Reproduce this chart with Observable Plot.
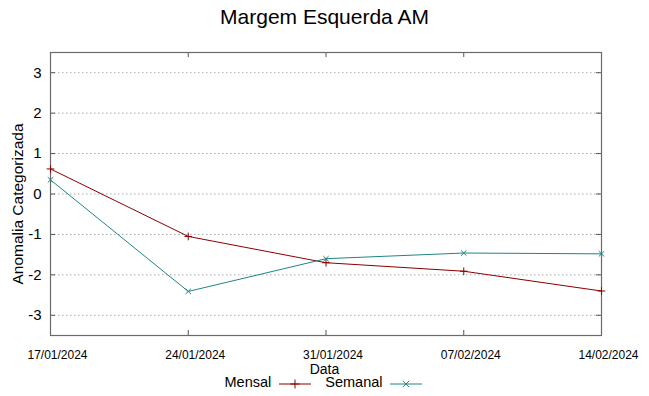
<!DOCTYPE html>
<html>
<head>
<meta charset="utf-8">
<script src="https://cdn.jsdelivr.net/npm/d3@7"></script>
<script src="https://cdn.jsdelivr.net/npm/@observablehq/plot@0.6"></script>
<style>
  body { margin: 0; background: #fff; font-family: "Liberation Sans", Arial, sans-serif; }
  #wrap { position: relative; width: 649px; height: 396px; overflow: hidden; }
  #wrap > svg { position: absolute; left: 0; top: 0; }
  .ov { position: absolute; white-space: nowrap; color: #000; }
</style>
</head>
<body>
<div id="wrap"></div>
<script>
const dates = ["2024-01-17", "2024-01-24", "2024-01-31", "2024-02-07", "2024-02-14"];
const mensal = [0.62, -1.05, -1.70, -1.91, -2.40];
const semanal = [0.35, -2.41, -1.60, -1.46, -1.48];
const yTicks = [-3, -2, -1, 0, 1, 2, 3];
const seriesNames = ["Mensal", "Semanal"];
const seriesColors = ["#8b0000", "#1f8585"];
const seriesSymbols = ["plus", "times"];

const W = 649, H = 396;
const mT = 52, mR = 48, mB = 61, mL = 50;
const pw = W - mL - mR, ph = H - mT - mB;

const parse = d3.utcParse("%Y-%m-%d");
const xDates = dates.map(parse);
const rows = [];
seriesNames.forEach((s, i) => {
  const vals = i === 0 ? mensal : semanal;
  xDates.forEach((d, j) => rows.push({series: s, date: d, value: vals[j]}));
});

const chart = Plot.plot({
  width: W, height: H,
  marginTop: mT, marginRight: mR, marginBottom: mB, marginLeft: mL,
  style: {fontFamily: '"Liberation Sans", Arial, sans-serif', background: "transparent"},
  x: {type: "utc", domain: [xDates[0], xDates[xDates.length - 1]]},
  y: {domain: [-3.5, 3.5]},
  color: {domain: seriesNames, range: seriesColors},
  symbol: {domain: seriesNames, range: seriesSymbols},
  marks: [
    Plot.ruleY(yTicks, {y: d => d, stroke: "#a8a8a8", strokeDasharray: "1.5,2.5", strokeWidth: 1}),
    Plot.tickX(xDates, {x: d => d, insetTop: ph - 5, stroke: "#555"}),
    Plot.tickX(xDates, {x: d => d, insetBottom: ph - 5, stroke: "#555"}),
    Plot.tickY(yTicks, {y: d => d, insetLeft: pw - 5, stroke: "#555"}),
    Plot.tickY(yTicks, {y: d => d, insetRight: pw - 5, stroke: "#555"}),
    Plot.frame({stroke: "#6a6a6a", strokeWidth: 1.2}),
    Plot.line(rows, {x: "date", y: "value", z: "series", stroke: "series", strokeWidth: 1}),
    Plot.dot(rows, {x: "date", y: "value", stroke: "series", symbol: "series", r: 2.6, strokeWidth: 1}),
    Plot.axisX({ticks: xDates, tickFormat: d3.utcFormat("%d/%m/%Y"), tickSize: 0, tickPadding: 15, dx: 7, fontSize: 12, label: null}),
    Plot.axisY({ticks: yTicks, tickFormat: d => String(d), tickSize: 0, tickPadding: 9, fontSize: 15, label: null})
  ]
});
chart.querySelectorAll("text").forEach(t => t.setAttribute("fill", "#000"));
const wrap = document.getElementById("wrap");
wrap.appendChild(chart);

function ov(text, css) {
  const d = document.createElement("div");
  d.className = "ov";
  d.textContent = text;
  Object.assign(d.style, css);
  wrap.appendChild(d);
  return d;
}
ov("Margem Esquerda AM", {left: "0", width: W + "px", textAlign: "center", top: "5px", fontSize: "21px"});
ov("Data", {left: "0", width: W + "px", textAlign: "center", top: "361px", fontSize: "14px", lineHeight: "16px"});
const yl = ov("Anomalia Categorizada", {left: "18px", top: "204px", fontSize: "15.5px", lineHeight: "18px"});
yl.style.transform = "translate(-50%, -50%) rotate(-90deg)";

// legend
const leg = document.createElement("div");
leg.className = "ov";
Object.assign(leg.style, {left: "0", width: W + "px", top: "374px", fontSize: "14.5px", lineHeight: "17px", display: "flex", justifyContent: "center", alignItems: "center"});
seriesNames.forEach((s, i) => {
  const span = document.createElement("span");
  span.textContent = s;
  span.style.marginLeft = i === 0 ? "0px" : "12px";
  leg.appendChild(span);
  const sw = d3.create("svg").attr("width", 36).attr("height", 17).style("margin-left", "6px").style("display", "block");
  sw.append("line").attr("x1", 2).attr("x2", 34).attr("y1", 10).attr("y2", 10).attr("stroke", seriesColors[i]).attr("stroke-width", 1);
  const sym = d3.symbol(i === 0 ? d3.symbolPlus : d3.symbolTimes, 28);
  sw.append("path").attr("d", sym()).attr("transform", "translate(18,10)").attr("fill", "none").attr("stroke", seriesColors[i]);
  leg.appendChild(sw.node());
});
wrap.appendChild(leg);
</script>
</body>
</html>
